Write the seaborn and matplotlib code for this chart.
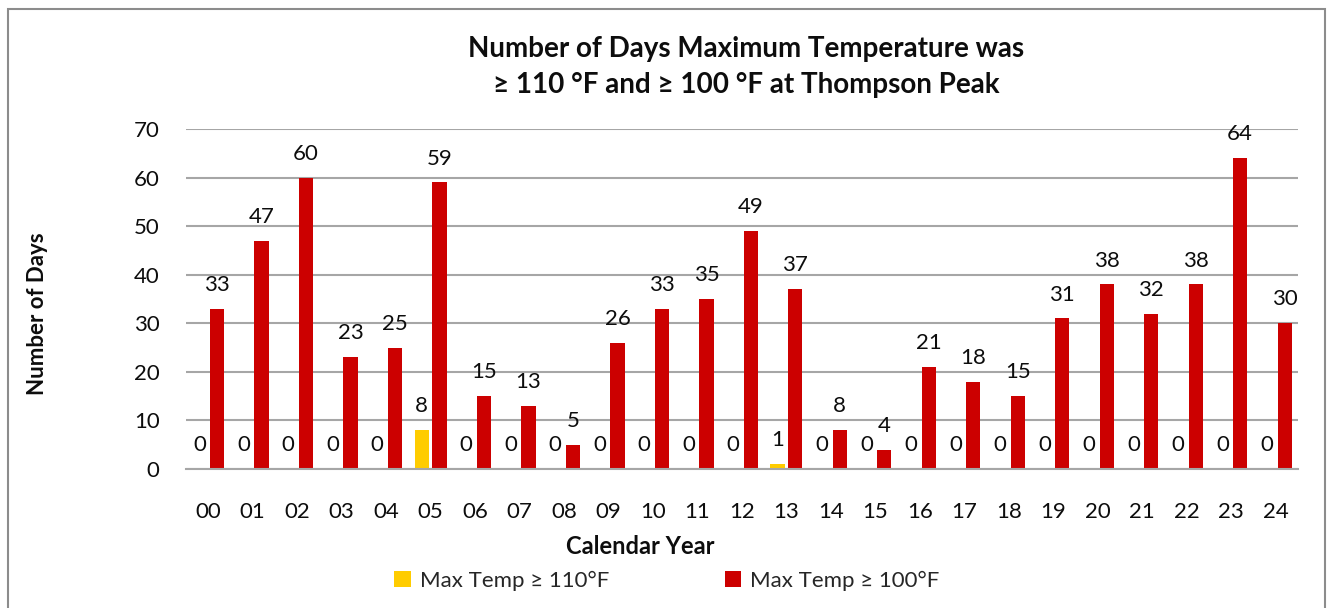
import pandas as pd
import matplotlib
matplotlib.use("Agg")
import matplotlib.pyplot as plt
from matplotlib.patches import Rectangle
import seaborn as sns

# Chart data
years = ['00', '01', '02', '03', '04', '05', '06', '07', '08', '09', '10', '11', '12',
         '13', '14', '15', '16', '17', '18', '19', '20', '21', '22', '23', '24']
days_110 = [0, 0, 0, 0, 0, 8, 0, 0, 0, 0, 0, 0, 0, 1, 0, 0, 0, 0, 0, 0, 0, 0, 0, 0, 0]
days_100 = [33, 47, 60, 23, 25, 59, 15, 13, 5, 26, 33, 35, 49, 37, 8, 4, 21, 18, 15,
            31, 38, 32, 38, 64, 30]
series = ['Max Temp ≥ 110°F', 'Max Temp ≥ 100°F']
colors = ['#FFCC00', '#CC0000']

df = pd.DataFrame({
    'year': years * 2,
    'days': days_110 + days_100,
    'series': [series[0]] * len(years) + [series[1]] * len(years),
})

sns.set_style("white")
plt.rcParams['font.family'] = ['Lato', 'DejaVu Sans']

fig = plt.figure(figsize=(13.32, 6.08), dpi=100)
ax = fig.add_axes([186 / 1332, 1 - 469 / 608, 1112 / 1332, 340 / 608])

sns.barplot(data=df, x='year', y='days', hue='series', hue_order=series,
            palette=colors, width=0.8, gap=0.2, ax=ax, saturation=1,
            edgecolor='none', legend=True)

for cont in ax.containers:
    ax.bar_label(cont, fmt='%d', padding=10, fontsize=16, color='#0d0d0d')

ax.set_ylim(0, 70)
ax.set_yticks(range(0, 71, 10))
ax.set_xlim(-0.5, len(years) - 0.5)
ax.yaxis.grid(True, color='#A6A6A6', lw=1.5)
ax.set_axisbelow(True)
for s in ['top', 'right', 'left']:
    ax.spines[s].set_visible(False)
ax.spines['bottom'].set_color('#A6A6A6')
ax.spines['bottom'].set_linewidth(1.5)
ax.tick_params(axis='both', length=0, labelsize=16, colors='#0d0d0d')
ax.tick_params(axis='x', pad=24)
ax.tick_params(axis='y', pad=19)

ax.set_xlabel('Calendar Year', fontsize=17, fontweight='bold', color='#0d0d0d')
ax.xaxis.set_label_coords((640 - 186) / 1112, -(546 - 469) / 340)
ax.xaxis.label.set_va('center')
ax.set_ylabel('Number of Days', fontsize=16, fontweight='bold', color='#0d0d0d')
ax.yaxis.set_label_coords((38 - 186) / 1112, (469 - 314) / 340)
ax.yaxis.label.set_va('center')

fig.text(746 / 1332, 1 - 67 / 608, 'Number of Days Maximum Temperature was\n≥ 110 °F and ≥ 100 °F at Thompson Peak',
         ha='center', va='center', fontsize=20, fontweight='bold', linespacing=1.45,
         color='#0d0d0d')

handles, labels = ax.get_legend_handles_labels()
ax.legend_.remove()
fig.legend(handles, labels, loc='center', bbox_to_anchor=(667 / 1332, 1 - 581 / 608), ncol=2,
           frameon=False, fontsize=16, handlelength=0.75, handleheight=0.75,
           handletextpad=0.4, columnspacing=5.2)

# outer chart border
fig.patches.append(Rectangle((8 / 1332, -0.02), 1317 / 1332, 1 - 9 / 608 + 0.02,
                             transform=fig.transFigure, fill=False,
                             edgecolor='#8C8C8C', lw=1.5))

fig.savefig('out.png', dpi=100)
